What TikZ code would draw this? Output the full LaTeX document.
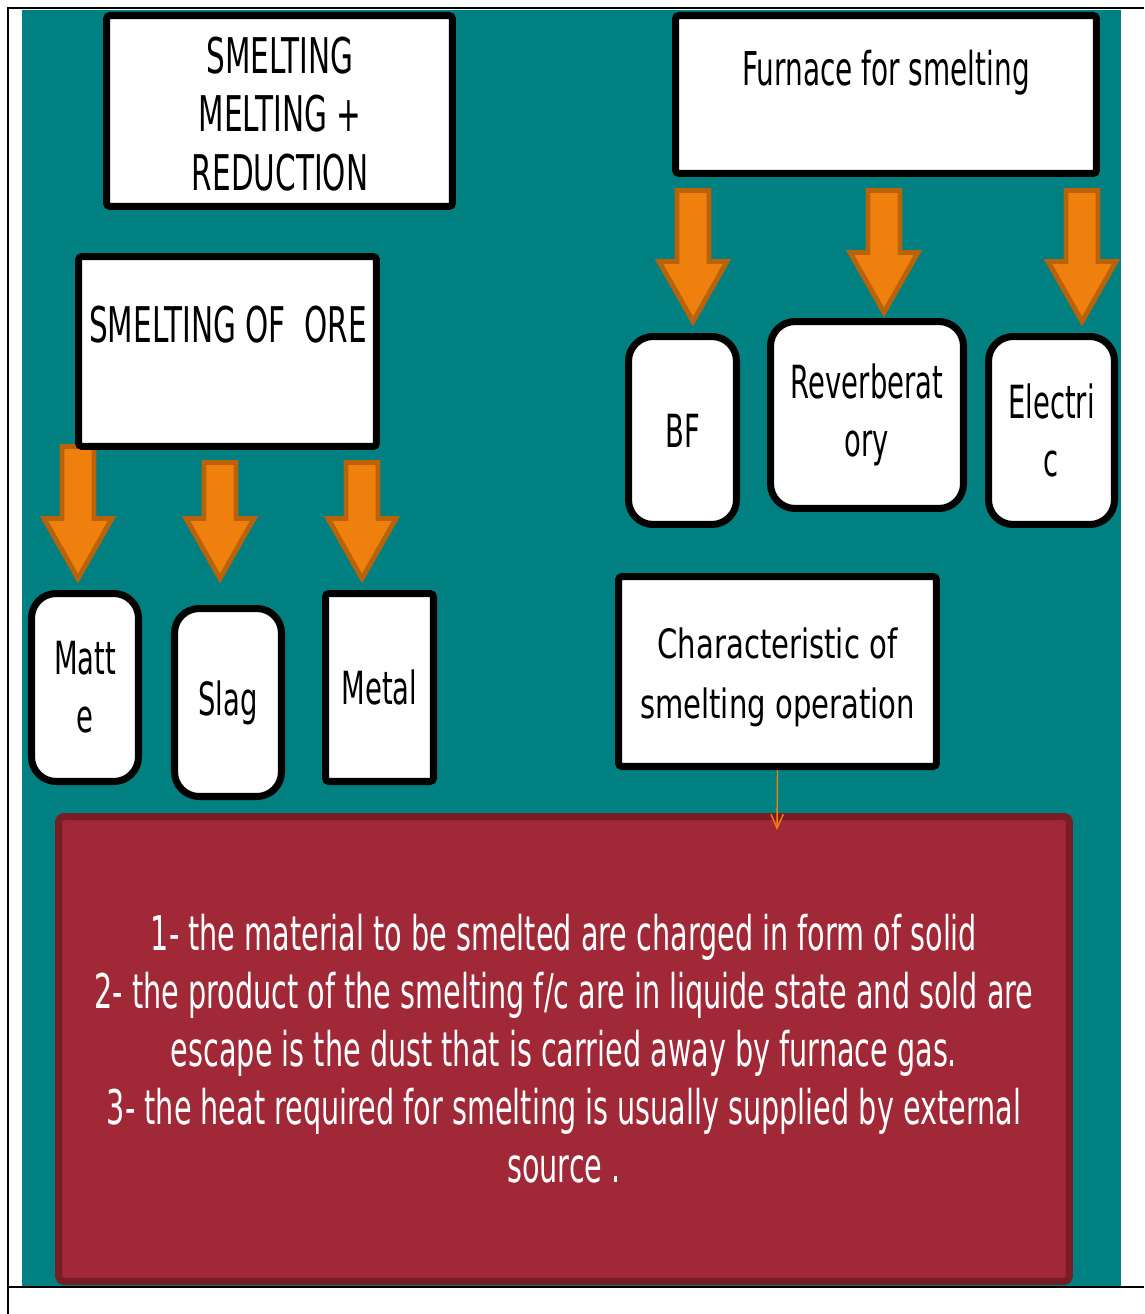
\documentclass[tikz,border=0pt]{standalone}
\usepackage{fontspec}
\setmainfont{DejaVu Sans}
\newfontfamily\condfont[FakeStretch=0.6]{DejaVu Sans}
\newfontfamily\charfont[FakeStretch=0.72]{DejaVu Sans}
\usetikzlibrary{calc,arrows.meta,backgrounds}

\definecolor{slidebg}{RGB}{0,128,128}
\definecolor{arrowfill}{RGB}{240,128,14}
\definecolor{arrowedge}{RGB}{184,98,10}
\definecolor{notefill}{RGB}{161,40,55}
\definecolor{noteedge}{RGB}{120,28,38}

\tikzset{
  box/.style={draw=black, fill=white, line width=4pt, rounded corners=2pt,
    inner sep=0pt, align=center, font=\condfont\fontsize{26}{33}\selectfont},
  roundbox/.style={box, rounded corners=14pt},
  fatarrow/.style={fill=arrowfill, draw=arrowedge, line width=2.8pt},
  word/.style={inner sep=0pt, align=center, font=\condfont\fontsize{26}{33}\selectfont},
}

% block arrow from #1 down to tip #2
\newcommand{\fatarrow}[2]{%
  \filldraw[fatarrow] ($(#1)+(-16,0)$) -- ($(#1)+(16,0)$) -- ($(#2)+(16,-60)$)
    -- ($(#2)+(34,-60)$) -- (#2) -- ($(#2)+(-34,-60)$) -- ($(#2)+(-16,-60)$) -- cycle;}

\begin{document}
\begin{tikzpicture}[x=0.02cm,y=-0.02cm]
\useasboundingbox (0,0) rectangle (1144,1314);

% frame
\draw[line width=1.3pt] (8,1314) -- (8,8) -- (1144,8);
\draw[line width=1.3pt] (8,1287) -- (1144,1287);

% boxes
\node[box, minimum width=6.92cm, minimum height=3.82cm] (smelt) at (279.5,111) {};
\node[word, font=\condfont\fontsize{28}{33.5}\selectfont] (smelttxt) at (280,114)
  {SMELTING\\MELTING +\\REDUCTION};
\node[box, minimum width=8.42cm, minimum height=3.16cm] (furnace) at (886,94.5) {};
\node[word, font=\condfont\fontsize{26.5}{33}\selectfont] (furnacetxt) at (886,73) {Furnace for smelting};
\node[box, minimum width=5.96cm, minimum height=3.8cm] (ore) at (227.5,351.5) {};
\node[word, font=\condfont\fontsize{28}{33}\selectfont] (oretxt) at (228,325) {SMELTING OF\ \ ORE};

\node[roundbox, minimum width=2.14cm, minimum height=3.76cm] (matte) at (85,687.5) {Matt\\e};
\node[roundbox, minimum width=2.14cm, minimum height=3.76cm] (slag) at (228,702.5) {Slag};
\node[box, minimum width=2.16cm, minimum height=3.76cm] (metal) at (379.5,687.5) {Metal};

\node[roundbox, minimum width=2.16cm, minimum height=3.76cm] (bf) at (682.5,430.5) {BF};
\node[roundbox, minimum width=3.86cm, minimum height=3.74cm] (reverb) at (867,415) {Reverberat\\ory};
\node[roundbox, minimum width=2.52cm, minimum height=3.76cm] (electric) at (1051.5,430.5) {Electri\\c};

\node[box, minimum width=6.36cm, minimum height=3.8cm] (charact) at (777.5,671.5) {};
\node[word, font=\charfont\fontsize{23}{34}\selectfont] (characttxt) at (777.5,677)
  {Characteristic of\\smelting operation};

\node[box, draw=noteedge, fill=notefill, text=white, rounded corners=3pt,
  minimum width=20.22cm, minimum height=9.3cm, font=\condfont\fontsize{27.2}{33}\selectfont]
  (note) at (564,1049)
  {1- the material to be smelted are charged in form of solid\\
   2- the product of the smelting f/c are in liquide state and sold are\\
   escape is the dust that is carried away by furnace gas.\\
   3- the heat required for smelting is usually supplied by external\\
   source .};

% arrow ends
\coordinate (t1) at ($(matte.north)+(-7,-11.5)$);
\coordinate (t2) at ($(slag.north)+(-8,-26.5)$);
\coordinate (t3) at ($(metal.north)+(-17.5,-11.5)$);
\coordinate (s1) at ($(ore.south -| t1)+(0,-3.5)$);
\coordinate (s2) at ($(ore.south -| t2)+(0,12.5)$);
\coordinate (s3) at ($(ore.south -| t3)+(0,12.5)$);
\coordinate (t4) at ($(bf.north)+(10.5,-11.5)$);
\coordinate (t5) at ($(reverb.north)+(17,-5.5)$);
\coordinate (t6) at ($(electric.north)+(30.5,-11.5)$);
\coordinate (s4) at ($(furnace.south -| t4)+(0,13.5)$);
\coordinate (s5) at ($(furnace.south -| t5)+(0,13.5)$);
\coordinate (s6) at ($(furnace.south -| t6)+(0,13.5)$);
\coordinate (charend) at (777,830);

\begin{pgfonlayer}{background}
\fill[slidebg] (22,10) rectangle (1121,1286);
\fatarrow{s1}{t1}
\fatarrow{s2}{t2}
\fatarrow{s3}{t3}
\fatarrow{s4}{t4}
\fatarrow{s5}{t5}
\fatarrow{s6}{t6}
\end{pgfonlayer}

\draw[arrowfill, line width=0.8pt, -{Straight Barb[length=8pt,width=7pt]}] (charact.south) -- (charend);
\end{tikzpicture}
\end{document}
